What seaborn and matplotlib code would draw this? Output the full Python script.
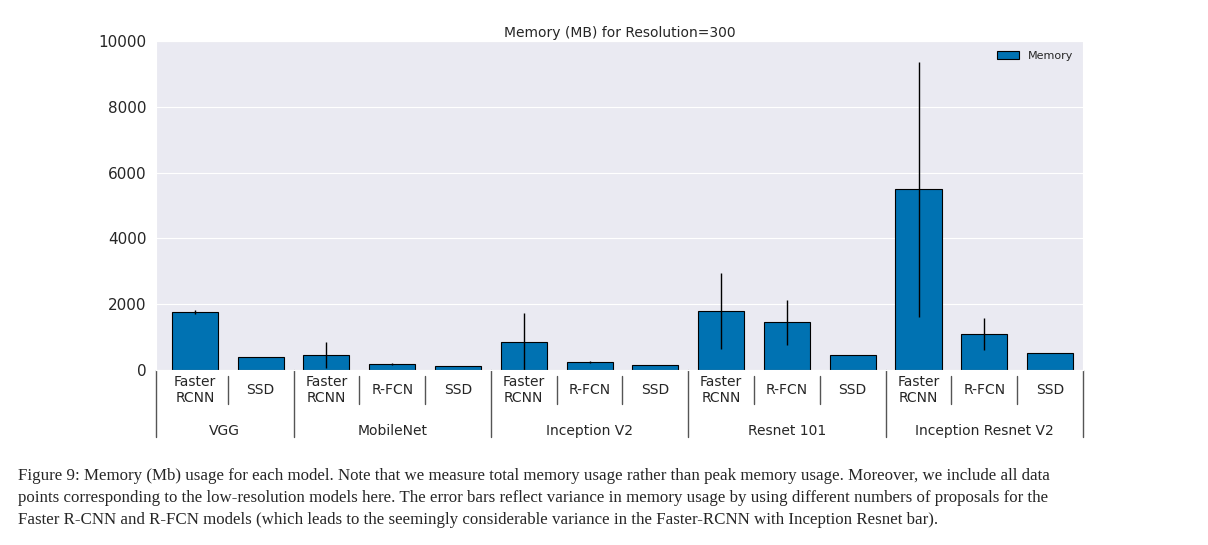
import matplotlib
matplotlib.use("Agg")
import matplotlib.pyplot as plt
import matplotlib.transforms as mtransforms
import seaborn as sns
import numpy as np
import pandas as pd

# --- DATA ---
groups = ["VGG", "MobileNet", "Inception V2", "Resnet 101", "Inception Resnet V2"]
group_sizes = [2, 3, 3, 3, 3]
meta_archs = ["Faster\nRCNN", "SSD",
              "Faster\nRCNN", "R-FCN", "SSD",
              "Faster\nRCNN", "R-FCN", "SSD",
              "Faster\nRCNN", "R-FCN", "SSD",
              "Faster\nRCNN", "R-FCN", "SSD"]
memory = [1763, 395, 455, 180, 120, 850, 240, 150, 1790, 1460, 455, 5500, 1095, 515]
err_low = [1700, 395, 60, 160, 120, 0, 220, 150, 640, 760, 455, 1610, 610, 515]
err_high = [1830, 395, 850, 200, 120, 1730, 260, 150, 2950, 2130, 455, 9360, 1580, 515]

W, H = 1208, 545
sns.set_style("darkgrid", {"axes.facecolor": "#EAEAF2", "grid.color": "white"})
plt.rcParams["font.family"] = ["DejaVu Sans"]

fig = plt.figure(figsize=(W / 100, H / 100), dpi=100)
ax = fig.add_axes([156 / W, 1 - 370 / H, (1083 - 156) / W, (370 - 41) / H])

df = pd.DataFrame({"pos": [str(i) for i in range(len(memory))], "Memory": memory})
sns.barplot(data=df, x="pos", y="Memory", ax=ax, color="#0072B2", saturation=1,
            width=0.7, edgecolor="black", linewidth=0.8, label="Memory", errorbar=None)
x = np.arange(len(memory))
ax.vlines(x, err_low, err_high, color="black", linewidth=1)

ax.set_xlim(-0.59, 13.5)
ax.set_ylim(0, 10000)
ax.set_yticks([0, 2000, 4000, 6000, 8000, 10000])
ax.tick_params(axis="y", labelsize=11)
ax.set_xticks([])
ax.set_xlabel("")
ax.set_ylabel("")
ax.grid(axis="x", visible=False)
ax.set_title("Memory (MB) for Resolution=300", fontsize=10, pad=3)
ax.legend(loc="upper right", fontsize=8, frameon=False)

# two-level x labels
tr = mtransforms.blended_transform_factory(ax.transData, fig.transFigure)
fy = lambda px: 1 - px / H
for i, lab in enumerate(meta_archs):
    ax.text(i, fy(390), lab, transform=tr, ha="center", va="center",
            fontsize=10, linespacing=1.2, clip_on=False)
edges = np.cumsum([0] + group_sizes) - 0.5
edges[0] = -0.59
edges[-1] = 13.5
for k, g in enumerate(groups):
    ax.text((edges[k] + edges[k + 1]) / 2, fy(431), g, transform=tr,
            ha="center", va="center", fontsize=10)
for e in edges:
    ax.plot([e, e], [fy(370), fy(437)], transform=tr, color="#555555",
            linewidth=1, clip_on=False)
for i in range(len(memory) - 1):
    e = i + 0.5
    if e not in edges:
        ax.plot([e, e], [fy(376), fy(404)], transform=tr, color="#555555",
                linewidth=1, clip_on=False)

caption = [
    ("Figure 9: ", "Memory (Mb) usage for each model. Note that we measure total memory usage rather than peak memory usage. Moreover, we include all data"),
    ("", "points corresponding to the low-resolution models here. The error bars reflect variance in memory usage by using different numbers of proposals for the"),
    ("", "Faster R-CNN and R-FCN models (which leads to the seemingly considerable variance in the Faster-RCNN with Inception Resnet bar)."),
]
for j, (head, body) in enumerate(caption):
    fig.text(18 / W, fy(476 + 22 * j), head + body, fontsize=12.2,
             family="Liberation Serif", va="center", ha="left")

fig.savefig("out.png", dpi=100)
